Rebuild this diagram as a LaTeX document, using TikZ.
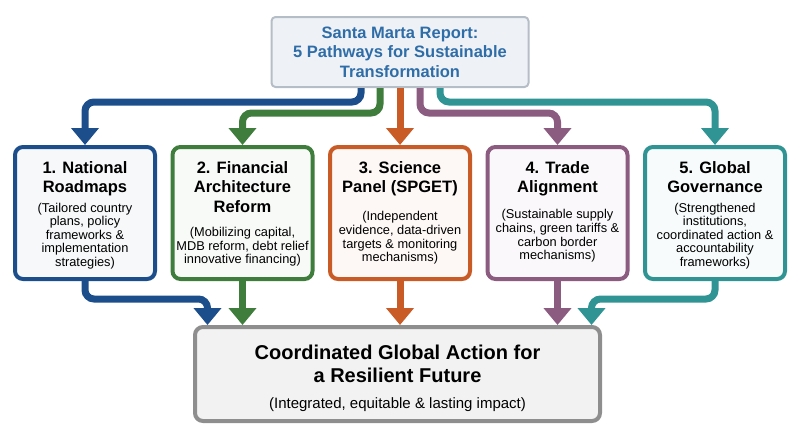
\documentclass[tikz,border=0pt]{standalone}
\usepackage{fontspec}
\setmainfont{Liberation Sans}
\usetikzlibrary{arrows.meta,positioning,calc}
\definecolor{roadblue}{HTML}{1C4E8C}
\definecolor{fingreen}{HTML}{3F7D3C}
\definecolor{sciorange}{HTML}{C95B26}
\definecolor{tradepurple}{HTML}{8B5B80}
\definecolor{govteal}{HTML}{2F9493}
\definecolor{titleblue}{HTML}{2F6DA8}
\definecolor{titleborder}{HTML}{B5BDC6}
\definecolor{titlefill}{HTML}{EEF2F6}
\definecolor{goalborder}{HTML}{8E8E8E}
\definecolor{goalfill}{HTML}{F2F2F2}
\begin{document}
\begin{tikzpicture}[x=1pt,y=-1pt]
  \tikzstyle{titlebox}=[draw=titleborder, fill=titlefill, line width=2pt, rounded corners=4pt, minimum width=257pt, minimum height=70pt, text=titleblue, align=center, font=\fontsize{16.5}{19.5}\selectfont\bfseries]
  \tikzstyle{pathbox}=[line width=4pt, rounded corners=8pt, minimum width=140pt, minimum height=132pt]
  \tikzstyle{pathhead}=[font=\fontsize{16.5}{19.5}\selectfont\bfseries, align=center, inner sep=0pt, anchor=north]
  \tikzstyle{pathdesc}=[font=\fontsize{12.8}{13.6}\selectfont, align=center, inner sep=0pt]
  \tikzstyle{goalbox}=[draw=goalborder, fill=goalfill, line width=4pt, rounded corners=8pt, minimum width=405pt, minimum height=94pt]
  \tikzstyle{flow}=[line width=7pt, rounded corners=9pt, -{Triangle[width=27pt,length=17pt]}]
  \def\hsp{157.5}

  \useasboundingbox (0,0) rectangle (800,447);

  \node [titlebox] (title) at (400,52) {Santa Marta Report:\\5 Pathways for Sustainable\\Transformation};
  \node [pathbox, draw=roadblue, fill=roadblue!4] (roadmaps) at (85,213) {};
  \node [pathbox, draw=fingreen, fill=fingreen!4] (finance) at ($(roadmaps)+(\hsp,0)$) {};
  \node [pathbox, draw=sciorange, fill=sciorange!4] (science) at ($(finance)+(\hsp,0)$) {};
  \node [pathbox, draw=tradepurple, fill=tradepurple!4] (trade) at ($(science)+(\hsp,0)$) {};
  \node [pathbox, draw=govteal, fill=govteal!4] (governance) at ($(trade)+(\hsp,0)$) {};
  \node [goalbox] (goal) at (397.5,374) {};

  \node [pathhead] (roadmapshead) at ($(roadmaps.north)+(0,16)$) {1. National\\Roadmaps};
  \node [pathdesc] (roadmapsdesc) at ($(roadmaps)+(0,23)$) {(Tailored country\\plans, policy\\frameworks \&\\implementation\\strategies)};
  \node [pathhead] (financehead) at ($(finance.north)+(0,16)$) {2. Financial\\Architecture\\Reform};
  \node [pathdesc] (financedesc) at ($(finance)+(0,34)$) {(Mobilizing capital,\\MDB reform, debt relief\\innovative financing)};
  \node [pathhead] (sciencehead) at ($(science.north)+(0,16)$) {3. Science\\Panel (SPGET)};
  \node [pathdesc] (sciencedesc) at ($(science)+(0,25)$) {(Independent\\evidence, data-driven\\targets \& monitoring\\mechanisms)};
  \node [pathhead] (tradehead) at ($(trade.north)+(0,16)$) {4. Trade\\Alignment};
  \node [pathdesc] (tradedesc) at ($(trade)+(0,23)$) {(Sustainable supply\\chains, green tariffs \&\\carbon border\\mechanisms)};
  \node [pathhead] (governancehead) at ($(governance.north)+(0,16)$) {5. Global\\Governance};
  \node [pathdesc] (governancedesc) at ($(governance)+(0,23)$) {(Strengthened\\institutions,\\coordinated action \&\\accountability\\frameworks)};

  \node [font=\fontsize{20}{22.5}\selectfont\bfseries, align=center] (goalhead) at ($(goal)+(0,-10)$) {Coordinated Global Action for\\a Resilient Future};
  \node [font=\fontsize{15}{17}\selectfont] (goaldesc) at ($(goal)+(0,31)$) {(Integrated, equitable \& lasting impact)};

  \draw [flow, roadblue] ($(title.south)+(-39,0)$) -- ++(0,14) -| (roadmaps.north);
  \draw [flow, fingreen] ($(title.south)+(-20,0)$) -- ++(0,25) -| (finance.north);
  \draw [flow, sciorange] (title.south) -- (science.north);
  \draw [flow, tradepurple] ($(title.south)+(20,0)$) -- ++(0,25) -| (trade.north);
  \draw [flow, govteal] ($(title.south)+(40,0)$) -- ++(0,14) -| (governance.north);

  \draw [flow, roadblue] (roadmaps.south) -- ++(0,18) -| ($(goal.north)+(-190,0)$);
  \draw [flow, fingreen] (finance.south) -- (finance.south |- goal.north);
  \draw [flow, sciorange] (science.south) -- (science.south |- goal.north);
  \draw [flow, tradepurple] (trade.south) -- (trade.south |- goal.north);
  \draw [flow, govteal] (governance.south) -- ++(0,18) -| ($(goal.north)+(194,0)$);
\end{tikzpicture}
\end{document}
